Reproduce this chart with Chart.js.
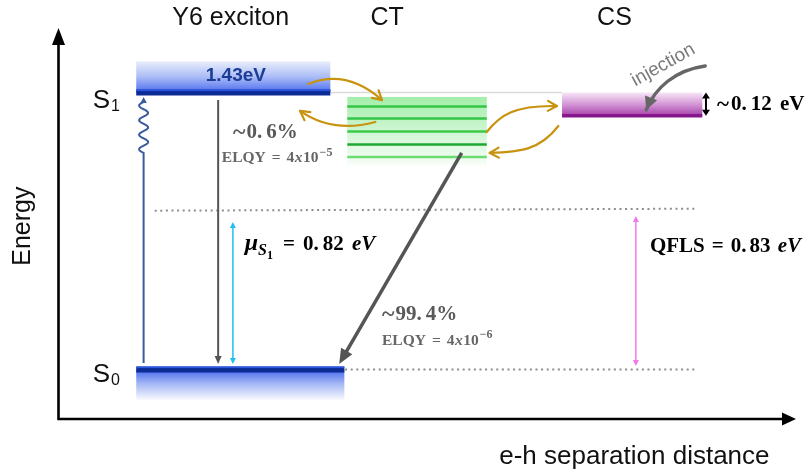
<!DOCTYPE html>
<html>
<head>
<meta charset="utf-8">
<title>Y6 exciton / CT / CS energy diagram</title>
<script src="https://cdn.jsdelivr.net/npm/chart.js@4.4.1/dist/chart.umd.min.js"></script>
<style>
  html, body { margin: 0; padding: 0; background: #ffffff; }
  canvas { display: block; }
</style>
</head>
<body>
<canvas id="diagram" width="810" height="472"></canvas>
<script>
// ---------- state energies (eV above S0) ----------
const stateTitles = ['Y6 exciton', 'CT', 'CS'];
const S0 = 0.0;
const S1 = 1.43;
const ctLevels = [1.358, 1.296, 1.229, 1.162, 1.097];
const ctBand = [1.407, 1.056];
const csDepth = 0.12;
const muS1 = 0.82;
const qfls = 0.83;

// recombination channels: share of decay (%) and electroluminescence yield
const channelShare = [0.6, 99.4];
const channelELQY = [4e-5, 4e-6];

// ---------- extent of each state along the e-h separation axis (a.u.) ----------
const titleX = [23.4, 44.6, 75.4];
const excitonSpan = [10.6, 36.9];
const groundSpan = [10.6, 38.8];
const ctSpan = [39.2, 58.1];
const csSpan = [68.3, 87.3];
const quasiFermiSpan = [13.1, 86.3];
const groundRefSpan = [38.9, 86.3];

// ---------- transitions ----------
const pumpX = 11.6, pumpArrow = [0.034, 1.407], pumpWaveStart = 1.118;
const emissionX = 21.7, emissionArrow = [1.391, 0.028];
const muX = 23.7, muArrow = [0.761, 0.028];
const qflsX = 78.3, qflsArrow = [0.792, 0.018];
const csArrowX = 87.8;
const ctDecayArrow = [[54.7, 1.118], [38.1, 0.028]];
const transferCurves = [
  [[33.9, 1.474], [38.2, 1.540], [41.6, 1.469], [43.9, 1.391]],  // exciton -> CT
  [[43.0, 1.278], [38.9, 1.236], [35.5, 1.262], [32.8, 1.335]],  // CT -> exciton
  [[58.1, 1.226], [59.9, 1.313], [61.9, 1.365], [67.6, 1.360]],  // CT -> CS
  [[67.8, 1.257], [65.3, 1.133], [62.6, 1.123], [58.5, 1.118]]   // CS -> CT
];
const injectionCurve = [[87.7, 1.567], [83.6, 1.546], [80.9, 1.453], [79.7, 1.340]];

// ---------- styling ----------
const SANS = '"Liberation Sans", Arial, sans-serif';
const SERIF = '"Liberation Serif", "Times New Roman", serif';
const ctLineColors = ['#34c646', '#34c646', '#3acb4a', '#1ea82f', '#6bdc70'];
const GOLD = '#c8930f';
const DARK = '#555555';

function seg(points, color, width, dash, order) {
  return {
    data: points.map(([x, y]) => ({ x, y })),
    showLine: true, borderColor: color, borderWidth: width, borderDash: dash || [],
    borderCapStyle: 'butt', pointRadius: 0, pointHoverRadius: 0, fill: false,
    clip: false, tension: 0, order: order
  };
}

const datasets = [
  seg([[excitonSpan[1], S1], [csSpan[0], S1]], '#dadada', 1.5, null, 9),
  seg([[quasiFermiSpan[0], muS1], [quasiFermiSpan[1], qfls]], '#8d8d8d', 2, [2, 3.6], 8),
  seg([[groundRefSpan[0], S0], [groundRefSpan[1], S0]], '#8d8d8d', 2, [2, 3.6], 8),
  ...ctLevels.map((e, i) => seg([[ctSpan[0], e], [ctSpan[1], e]], ctLineColors[i], 2.5, null, 5)),
  seg([[csSpan[0], S1 - csDepth], [csSpan[1], S1 - csDepth]], '#86168c', 3.5, null, 4),
  seg([[excitonSpan[0], S1], [excitonSpan[1], S1]], '#0c2b95', 6, null, 3),
  seg([[groundSpan[0], S0], [groundSpan[1], S0]], '#0c2b95', 6, null, 3)
];

// ---------- drawing helpers ----------
function head(ctx, tip, from, len, half, filled) {
  const a = Math.atan2(tip.y - from.y, tip.x - from.x);
  const bx = tip.x - len * Math.cos(a), by = tip.y - len * Math.sin(a);
  const px = -Math.sin(a) * half, py = Math.cos(a) * half;
  ctx.beginPath();
  ctx.moveTo(bx + px, by + py);
  ctx.lineTo(tip.x, tip.y);
  ctx.lineTo(bx - px, by - py);
  if (filled) { ctx.closePath(); ctx.fill(); } else { ctx.stroke(); }
}

function arrow(ctx, p0, p1, o) {
  const a = Math.atan2(p1.y - p0.y, p1.x - p0.x);
  const inset = o.len * 0.8;
  const s0 = o.both ? inset : 0;
  ctx.strokeStyle = o.color; ctx.fillStyle = o.color; ctx.lineWidth = o.width;
  ctx.setLineDash([]);
  ctx.beginPath();
  ctx.moveTo(p0.x + Math.cos(a) * s0, p0.y + Math.sin(a) * s0);
  ctx.lineTo(p1.x - Math.cos(a) * inset, p1.y - Math.sin(a) * inset);
  ctx.stroke();
  head(ctx, p1, p0, o.len, o.half, true);
  if (o.both) head(ctx, p0, p1, o.len, o.half, true);
}

function curve(ctx, pts, o) {
  const [p0, c1, c2, p3] = pts;
  ctx.strokeStyle = o.color; ctx.fillStyle = o.color; ctx.lineWidth = o.width;
  ctx.lineCap = 'round'; ctx.lineJoin = 'round';
  ctx.beginPath();
  ctx.moveTo(p0.x, p0.y);
  ctx.bezierCurveTo(c1.x, c1.y, c2.x, c2.y, p3.x, p3.y);
  ctx.stroke();
  head(ctx, p3, c2, o.len, o.half, o.filled);
}

function textRuns(ctx, list, x, y, color, align) {
  let w = 0;
  for (const r of list) { ctx.font = r.f; w += ctx.measureText(r.t).width + (r.gap || 0); }
  let cx = align === 'center' ? x - w / 2 : x;
  ctx.textAlign = 'left';
  ctx.textBaseline = 'alphabetic';
  for (const r of list) {
    ctx.font = r.f;
    ctx.fillStyle = r.c || color;
    ctx.fillText(r.t, cx, y + (r.dy || 0));
    cx += ctx.measureText(r.t).width + (r.gap || 0);
  }
}

// math-style number: a little space after the decimal point
function mathNum(value, font, dotGap) {
  const parts = String(value).split('.');
  if (parts.length < 2) return [{ t: parts[0], f: font }];
  return [{ t: parts[0] + '.', f: font, gap: dotGap }, { t: parts[1], f: font }];
}

function elqyRuns(v, size) {
  const exp = Math.floor(Math.log10(v));
  const man = Math.round(v / Math.pow(10, exp));
  const b = 'bold ' + size + 'px ' + SERIF;
  const bi = 'italic bold ' + size + 'px ' + SERIF;
  const sup = 'bold ' + Math.round(size * 0.75) + 'px ' + SERIF;
  return [
    { t: 'ELQY', f: b, gap: 6 },
    { t: '=', f: b, gap: 6 },
    { t: String(man), f: b, gap: 0.5 },
    { t: 'x', f: bi, gap: 0.5 },
    { t: '10', f: b, gap: 1 },
    { t: '\u2212' + String(-exp), f: sup, dy: -6.5 }
  ];
}

// ---------- custom layers: bands, arrows, labels ----------
const diagramLayers = {
  id: 'diagramLayers',
  beforeDatasetsDraw(chart) {
    const { ctx, chartArea: ca, scales: { x, y } } = chart;
    const X = v => x.getPixelForValue(v), Y = v => y.getPixelForValue(v);
    ctx.save();

    // axes with arrow heads
    ctx.strokeStyle = '#000'; ctx.fillStyle = '#000'; ctx.lineWidth = 2.6;
    const ax = ca.left + 0.5, ay = ca.bottom;
    ctx.beginPath();
    ctx.moveTo(ax, ay + 1.3); ctx.lineTo(ax, ca.top + 12);
    ctx.moveTo(ax - 1.3, ay); ctx.lineTo(ca.right - 10, ay);
    ctx.stroke();
    head(ctx, { x: ax, y: ca.top }, { x: ax, y: ay }, 17, 6.5, true);
    head(ctx, { x: ca.right, y: ay }, { x: ax, y: ay }, 14, 6.5, true);

    // exciton glow above S1
    let x0 = X(excitonSpan[0]), x1 = X(excitonSpan[1]);
    let yt = Y(S1) - 31, yb = Y(S1);
    let g = ctx.createLinearGradient(0, yt, 0, yb);
    g.addColorStop(0, '#e8edfc'); g.addColorStop(0.5, '#aabcf6'); g.addColorStop(1, '#4c6cee');
    ctx.fillStyle = g; ctx.fillRect(x0, yt, x1 - x0, yb - yt);

    // ground-state glow below S0
    x0 = X(groundSpan[0]); x1 = X(groundSpan[1]);
    yt = Y(S0); yb = Y(S0) + 31;
    g = ctx.createLinearGradient(0, yt, 0, yb);
    g.addColorStop(0, '#4668ee'); g.addColorStop(0.45, '#a4b6f5'); g.addColorStop(1, '#fbfcff');
    ctx.fillStyle = g; ctx.fillRect(x0, yt, x1 - x0, yb - yt);

    // CT manifold
    x0 = X(ctSpan[0]); x1 = X(ctSpan[1]);
    yt = Y(ctBand[0]); yb = Y(ctBand[1]);
    g = ctx.createLinearGradient(0, yt, 0, yb);
    g.addColorStop(0, '#a3eeaa'); g.addColorStop(0.55, '#d3f6d6'); g.addColorStop(1, '#f7fdf7');
    ctx.fillStyle = g; ctx.fillRect(x0, yt, x1 - x0, yb - yt);

    // CS band
    x0 = X(csSpan[0]); x1 = X(csSpan[1]);
    yt = Y(S1); yb = Y(S1 - csDepth);
    g = ctx.createLinearGradient(0, yt, 0, yb);
    g.addColorStop(0, '#f7e6f7'); g.addColorStop(0.55, '#d08fd2'); g.addColorStop(1, '#a441a9');
    ctx.fillStyle = g; ctx.fillRect(x0, yt, x1 - x0, yb - yt);

    ctx.restore();
  },
  afterDatasetsDraw(chart) {
    const { ctx, chartArea: ca, scales: { x, y } } = chart;
    const X = v => x.getPixelForValue(v), Y = v => y.getPixelForValue(v);
    const P = ([a, b]) => ({ x: X(a), y: Y(b) });
    ctx.save();

    // bright top edge on the S1 / S0 levels
    ctx.fillStyle = '#2a58e4';
    ctx.fillRect(X(excitonSpan[0]), Y(S1) - 3, X(excitonSpan[1]) - X(excitonSpan[0]), 1.6);
    ctx.fillRect(X(groundSpan[0]), Y(S0) - 3, X(groundSpan[1]) - X(groundSpan[0]), 1.6);

    // excitation: straight line then wavy relaxation up to S1
    const px = X(pumpX);
    const yBot = Y(pumpArrow[0]), yWave = Y(pumpWaveStart), yTip = Y(pumpArrow[1]);
    ctx.strokeStyle = '#3a5c9e'; ctx.fillStyle = '#3a5c9e'; ctx.lineWidth = 2;
    ctx.beginPath();
    ctx.moveTo(px, yBot); ctx.lineTo(px, yWave);
    const yEnd = yTip + 5;
    for (let i = 0; i <= 140; i++) {
      const t = i / 140;
      ctx.lineTo(px - 4.5 * Math.sin(t * Math.PI * 7), yWave + (yEnd - yWave) * t);
    }
    ctx.stroke();
    head(ctx, { x: px, y: yTip }, { x: px, y: yBot }, 6, 3.2, true);

    // direct S1 -> S0 decay
    arrow(ctx, { x: X(emissionX), y: Y(emissionArrow[0]) }, { x: X(emissionX), y: Y(emissionArrow[1]) },
      { color: DARK, width: 2, len: 8, half: 3.5 });
    // chemical potential of S1
    arrow(ctx, { x: X(muX), y: Y(muArrow[0]) }, { x: X(muX), y: Y(muArrow[1]) },
      { color: '#22bfee', width: 1.5, len: 6, half: 3, both: true });
    // QFLS
    arrow(ctx, { x: X(qflsX), y: Y(qflsArrow[0]) }, { x: X(qflsX), y: Y(qflsArrow[1]) },
      { color: '#f27ae6', width: 1.5, len: 6, half: 3, both: true });
    // CS width
    arrow(ctx, { x: X(csArrowX), y: Y(S1) }, { x: X(csArrowX), y: Y(S1 - csDepth) },
      { color: '#000', width: 2, len: 6, half: 4, both: true });
    // CT -> S0 decay
    arrow(ctx, P(ctDecayArrow[0]), P(ctDecayArrow[1]), { color: DARK, width: 3.5, len: 15, half: 6.5 });

    // charge transfer / back transfer curves
    for (const c of transferCurves) {
      curve(ctx, c.map(P), { color: GOLD, width: 2.2, len: 9, half: 5, filled: false });
    }
    // injection
    curve(ctx, injectionCurve.map(P), { color: '#666666', width: 3.4, len: 13, half: 6.5, filled: true });

    // ----- labels -----
    ctx.textBaseline = 'alphabetic';
    // column titles
    ctx.font = '25px ' + SANS; ctx.fillStyle = '#111'; ctx.textAlign = 'center';
    stateTitles.forEach((t, i) => ctx.fillText(t, X(titleX[i]), ca.top - 3));

    // axis titles
    ctx.save();
    ctx.translate(ca.left - 28, Y(0.74));
    ctx.rotate(-Math.PI / 2);
    ctx.fillText('Energy', 0, 0);
    ctx.restore();
    ctx.font = '26px ' + SANS;
    ctx.textAlign = 'center';
    ctx.fillText('e-h separation distance', X(78.1), ca.bottom + 45);

    // S1 / S0
    const sBig = '26px ' + SANS, sSub = '16px ' + SANS;
    textRuns(ctx, [{ t: 'S', f: sBig, gap: 1 }, { t: '1', f: sSub, dy: 3 }], X(4.7), Y(S1) + 15, '#111');
    textRuns(ctx, [{ t: 'S', f: sBig, gap: 1 }, { t: '0', f: sSub, dy: 3 }], X(4.7), Y(S0) + 13, '#111');

    // S1 energy
    ctx.font = 'bold 19px ' + SANS; ctx.fillStyle = '#1b3d95'; ctx.textAlign = 'center';
    ctx.fillText(S1.toFixed(2) + 'eV', X(24.1), Y(S1) - 12);

    // channel shares
    const pb = 'bold 21px ' + SERIF;
    const tilde = 'bold 24px ' + SERIF;
    textRuns(ctx, [{ t: '~', f: tilde, gap: 1, dy: 1 }, ...mathNum(channelShare[0], pb, 4), { t: '%', f: pb }],
      X(23.7), Y(1.193), '#595959');
    textRuns(ctx, elqyRuns(channelELQY[0], 15.5), X(22.2), Y(1.069), '#666666');
    textRuns(ctx, [{ t: '~', f: tilde, gap: 1, dy: 1 }, ...mathNum(channelShare[1], pb, 4), { t: '%', f: pb }],
      X(43.9), Y(0.256), '#595959');
    textRuns(ctx, elqyRuns(channelELQY[1], 15.5), X(43.9), Y(0.127), '#666666');

    // chemical potential and QFLS
    const mb = 'bold 21px ' + SERIF, mbi = 'italic bold 21px ' + SERIF;
    textRuns(ctx, [
      { t: '\u03bc', f: 'italic bold 24px ' + SERIF },
      { t: 'S', f: 'italic bold 16px ' + SERIF, dy: 5 },
      { t: '1', f: 'bold 12px ' + SERIF, dy: 9, gap: 10 },
      { t: '=', f: mb, gap: 8 },
      ...mathNum(muS1.toFixed(2), mb, 4),
      { t: ' ', f: mb, gap: 3 },
      { t: 'eV', f: mbi }
    ], X(25.3), Y(0.617), '#000');
    textRuns(ctx, [
      { t: 'QFLS', f: mb, gap: 7 },
      { t: '=', f: mb, gap: 7 },
      ...mathNum(qfls.toFixed(2), mb, 3),
      { t: ' ', f: mb, gap: 2 },
      { t: 'eV', f: mbi }
    ], X(80.2), Y(0.609), '#000');
    textRuns(ctx, [
      { t: '~', f: 'bold 23px ' + SERIF, gap: 2, dy: 1 },
      ...mathNum(csDepth.toFixed(2), mb, 4),
      { t: ' ', f: mb, gap: 3 },
      { t: 'eV', f: mb }
    ], X(89.3), Y(1.34), '#000');

    // injection label
    ctx.save();
    ctx.translate(X(82.0), Y(1.572));
    ctx.rotate(-29 * Math.PI / 180);
    ctx.font = '19px ' + SANS; ctx.fillStyle = '#7a7a7a'; ctx.textAlign = 'center'; ctx.textBaseline = 'middle';
    ctx.fillText('injection', 0, 0);
    ctx.restore();

    ctx.restore();
  }
};

new Chart(document.getElementById('diagram'), {
  type: 'scatter',
  data: { datasets },
  options: {
    responsive: false,
    animation: false,
    devicePixelRatio: 1,
    layout: { padding: { left: 58, right: 14, top: 28, bottom: 53 } },
    scales: {
      x: { type: 'linear', min: 0, max: 100, display: false },
      y: { type: 'linear', min: -0.2556, max: 1.763, display: false }
    },
    plugins: { legend: { display: false }, tooltip: { enabled: false } },
    events: []
  },
  plugins: [diagramLayers]
});
</script>
</body>
</html>
